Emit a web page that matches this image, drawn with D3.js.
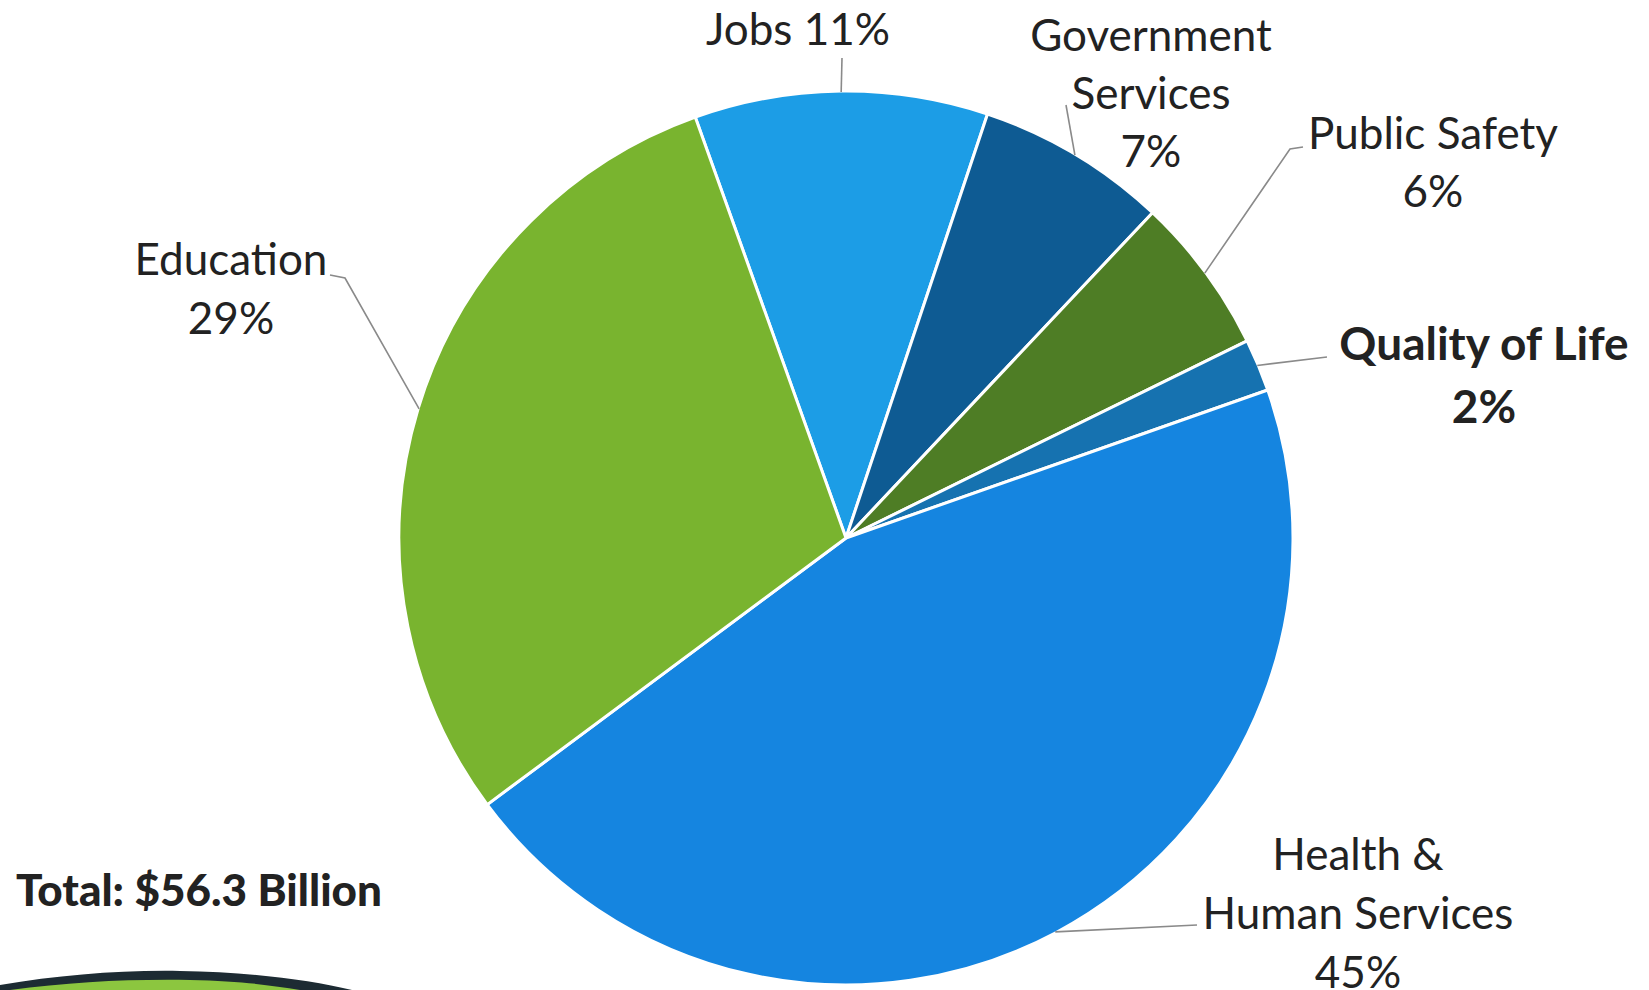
<!DOCTYPE html>
<html>
<head>
<meta charset="utf-8">
<script src="https://cdn.jsdelivr.net/npm/d3@7"></script>
<style>
  body { margin: 0; background: #fff; }
  text { font-family: Lato, "Open Sans", sans-serif; fill: #222; }
</style>
</head>
<body>
<div id="chart"></div>
<script>
// data (shares, labels as printed)
const categories = ["Jobs", "Government Services", "Public Safety", "Quality of Life", "Health & Human Services", "Education"];
const shares = [10.6, 6.9, 5.7, 1.9, 45.2, 29.7];
const labelLines = [
  ["Jobs 11%"],
  ["Government", "Services", "7%"],
  ["Public Safety", "6%"],
  ["Quality of Life", "2%"],
  ["Health &", "Human Services", "45%"],
  ["Education", "29%"]
];
const totalLabel = "Total: $56.3 Billion";

// layout (label positions and leader knees)
const width = 1649, height = 990;
const cx = 846, cy = 538, radius = 447;
const colors = ["#1c9de6", "#0e5b93", "#4e7d25", "#1672b0", "#1585e0", "#79b42f"];
const labelPos = [
  { x: 798, y: 45, lh: 58, bold: false, knee: [[842, 58]] },
  { x: 1151, y: 51, lh: 58, bold: false, knee: [[1066, 105]] },
  { x: 1433, y: 149, lh: 58, bold: false, knee: [[1290, 149], [1303, 147]] },
  { x: 1484, y: 360, lh: 63, bold: true, knee: [[1327, 357]] },
  { x: 1358, y: 870, lh: 59, bold: false, knee: [[1197, 925]] },
  { x: 231, y: 275, lh: 59, bold: false, knee: [[345, 278], [330, 275]] }
];

const svg = d3.select("#chart")
  .append("svg")
  .attr("width", width)
  .attr("height", height);

svg.append("rect").attr("width", width).attr("height", height).attr("fill", "#fff");

const g = svg.append("g")
  .attr("transform", "translate(" + cx + "," + cy + ")");

const startDeg = -19.7;
const pie = d3.pie()
  .sort(null)
  .startAngle(startDeg * Math.PI / 180)
  .endAngle((startDeg + 360) * Math.PI / 180)
  .value(function(d) { return d; });

const arc = d3.arc().innerRadius(0).outerRadius(radius);
const arcs = pie(shares);

g.selectAll(".slice")
  .data(arcs)
  .enter().append("path")
  .attr("class", "slice")
  .attr("d", arc)
  .attr("fill", function(d, i) { return colors[i]; })
  .attr("stroke", "#fff")
  .attr("stroke-width", 3)
  .attr("stroke-linejoin", "round");

// leader lines from the slice edge to the label
arcs.forEach(function(d, i) {
  const a = (d.startAngle + d.endAngle) / 2;
  const p0 = [cx + Math.sin(a) * (radius - 1), cy - Math.cos(a) * (radius - 1)];
  const pts = [p0].concat(labelPos[i].knee);
  svg.append("path")
    .attr("d", d3.line()(pts))
    .attr("fill", "none")
    .attr("stroke", "#8a8a8a")
    .attr("stroke-width", 1.6);
});

// labels
labelLines.forEach(function(lines, i) {
  const p = labelPos[i];
  const t = svg.append("text")
    .attr("text-anchor", "middle")
    .style("font-size", p.bold ? "46px" : "44px")
    .style("font-weight", p.bold ? "bold" : "normal");
  lines.forEach(function(s, j) {
    t.append("tspan").attr("x", p.x).attr("y", p.y + j * p.lh).text(s);
  });
});

svg.append("text")
  .attr("x", 16)
  .attr("y", 906)
  .style("font-size", "44px")
  .style("font-weight", "900")
  .text(totalLabel);

// decorative swoosh at bottom left
svg.append("path")
  .attr("d", "M0,990 L0,985 C60,975 120,970 180,971 C250,972 310,980 352,990 Z")
  .attr("fill", "#1d2b33");
svg.append("path")
  .attr("d", "M10,990 C70,982 130,979 190,980 C240,981 270,985 300,990 Z")
  .attr("fill", "#8cc63f");
</script>
</body>
</html>
